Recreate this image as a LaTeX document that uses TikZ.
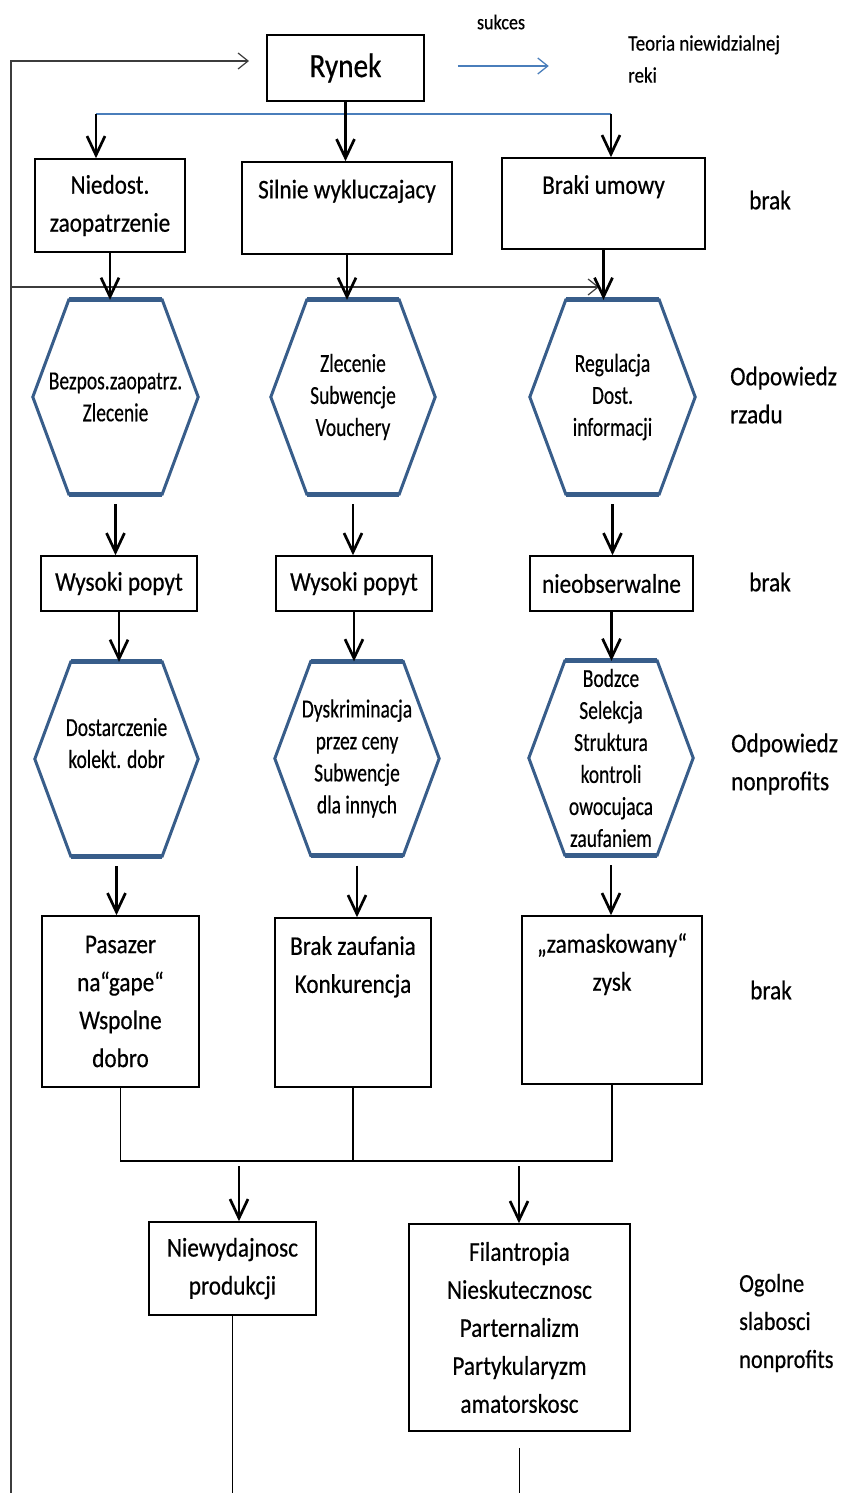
\documentclass[tikz,border=0pt]{standalone}
\usepackage{fontspec}
\usetikzlibrary{arrows.meta}
\newfontfamily\boxface[FakeStretch=0.86,FakeBold=0.5]{Carlito}
\newfontfamily\hexface[FakeStretch=0.75,FakeBold=0.4]{Carlito}
\definecolor{hexblue}{RGB}{56,93,138}
\definecolor{lineblue}{RGB}{74,126,187}
\definecolor{loopgray}{RGB}{60,60,60}
\tikzset{
  box/.style={draw, line width=1.6pt, inner sep=0pt, align=center, font=\boxface\fontsize{27}{38}\selectfont},
  hexnode/.style={minimum width=165pt, minimum height=194pt, inner sep=0pt, align=center, font=\hexface\fontsize{26}{32}\selectfont},
  side/.style={inner sep=0pt, align=left, font=\boxface\fontsize{27}{38}\selectfont},
  bigarrow/.style={line width=2.7pt, -{Straight Barb[length=19pt,width=18pt]}},
  looparrow/.style={draw=loopgray, line width=1.2pt, -{Straight Barb[length=10pt,width=16pt]}},
  thinline/.style={line width=1.1pt}
}
% hexagon drawn round a node
\newcommand{\hexframe}[1]{%
  \draw[hexblue, line width=3pt, line join=miter] (#1.west) -- ([xshift=36pt]#1.north west) -- ([xshift=-36pt]#1.north east) -- (#1.east) -- ([xshift=-36pt]#1.south east) -- ([xshift=36pt]#1.south west) -- cycle;
  \draw[hexblue, line width=5pt] ([xshift=36pt]#1.north west) -- ([xshift=-36pt]#1.north east) ([xshift=-36pt]#1.south east) -- ([xshift=36pt]#1.south west);}
\begin{document}
\begin{tikzpicture}[x=1pt,y=-1pt]
\useasboundingbox (0,0) rectangle (842,1493);
% Coordinates
\coordinate (loop-top) at (11,61);
\coordinate (loop-mid) at (11,287);
\coordinate (loop-end) at (11,1493);
\coordinate (rynek-in) at (249,61);
\coordinate (gov-in) at (599,287);
\coordinate (split-left) at (96,114);
\coordinate (split-right) at (611,114);
\coordinate (merge) at (0,1161);
\coordinate (merge-left) at (239,1166);
\coordinate (merge-right) at (519,1166);
\coordinate (bottom) at (0,1493);
% Market
\node[box, minimum width=157pt, minimum height=66pt, font=\boxface\fontsize{34}{40}\selectfont] (rynek) at (345.5,68) {Rynek};
\node[inner sep=0pt, font=\boxface\fontsize{21}{26}\selectfont] (sukces) at (501,22) {sukces};
\node[side, anchor=west, font=\boxface\fontsize{22}{32}\selectfont] (teoria) at (628,59) {Teoria niewidzialnej\\reki};
% Failures of the market
\node[box, minimum width=150pt, minimum height=93pt] (niedost) at (110,205.5) {Niedost.\\zaopatrzenie};
\node[box, minimum width=210pt, minimum height=92pt] (silnie) at (347,208) {Silnie wykluczajacy\\\mbox{}};
\node[box, minimum width=203pt, minimum height=91pt] (umowy) at (603.5,203.5) {Braki umowy\\\mbox{}};
% Government
\node[hexnode] (rzad-a) at (115.5,397) {Bezpos.zaopatrz.\\Zlecenie};
\node[hexnode, minimum width=164pt] (rzad-b) at (353,397) {Zlecenie\\Subwencje\\Vouchery};
\node[hexnode] (rzad-c) at (612.5,397) {Regulacja\\Dost.\\informacji};
\node[box, minimum width=156pt, minimum height=55pt] (popyt-a) at (119,583.5) {Wysoki popyt};
\node[box, minimum width=156pt, minimum height=55pt] (popyt-b) at (354,583.5) {Wysoki popyt};
\node[box, minimum width=163pt, minimum height=55pt] (nieobs) at (611.5,583.5) {nieobserwalne};
% Nonprofits
\node[hexnode, minimum width=163pt] (np-a) at (116.5,759) {Dostarczenie\\kolekt. dobr\\\mbox{}};
\node[hexnode, minimum width=164pt] (np-b) at (357,758.5) {Dyskriminacja\\przez ceny\\Subwencje\\dla innych};
\node[hexnode, minimum width=164pt] (np-c) at (611,758) {Bodzce\\Selekcja\\Struktura\\kontroli\\owocujaca\\zaufaniem};
\node[box, minimum width=157pt, minimum height=171pt] (pasazer) at (120.5,1001.5) {Pasazer\\na“gape“\\Wspolne\\dobro};
\node[box, minimum width=156pt, minimum height=169pt] (zaufanie) at (353,1002.5) {Brak zaufania\\Konkurencja\\\mbox{}\\\mbox{}};
\node[box, minimum width=180pt, minimum height=168pt] (zysk) at (612,1000) {„zamaskowany“\\zysk\\\mbox{}\\\mbox{}};
\node[box, minimum width=167pt, minimum height=93pt] (niewyd) at (232.5,1268.5) {Niewydajnosc\\produkcji};
\node[box, minimum width=221pt, minimum height=207pt] (filan) at (519.5,1327.5) {Filantropia\\Nieskutecznosc\\Parternalizm\\Partykularyzm\\amatorskosc};
% Row labels
\node[side] (brak-a) at (770,200) {brak};
\node[side, anchor=west] (odp-rzadu) at (730,395) {Odpowiedz\\rzadu};
\node[side] (brak-b) at (770,582) {brak};
\node[side, anchor=west] (odp-np) at (731,764) {Odpowiedz\\nonprofits};
\node[side] (brak-c) at (771,990) {brak};
\node[side, anchor=west, font=\boxface\fontsize{26}{38}\selectfont] (ogolne) at (739,1323) {Ogolne\\slabosci\\nonprofits};
% Hexagons
\foreach \h in {rzad-a,rzad-b,rzad-c,np-a,np-b,np-c} {\hexframe{\h}}
% Feedback loop
\draw[looparrow] (loop-end) -- (loop-top) -- (rynek-in);
\draw[looparrow] (loop-mid) -- (gov-in);
\draw[lineblue, line width=1.3pt, -{Straight Barb[length=10pt,width=16pt]}] ([xshift=33pt,yshift=2pt]rynek.east) -- ([xshift=124pt,yshift=2pt]rynek.east);
% Split of the market
\draw[lineblue, line width=1.2pt] (split-left) -- (split-right);
\draw[bigarrow] (rynek.south) -- (rynek.south |- silnie.north);
\draw[bigarrow] (split-left) -- (split-left |- niedost.north);
\draw[bigarrow] (split-right) -- (split-right |- umowy.north);
% Columns
\foreach \a/\b in {niedost/rzad-a,silnie/rzad-b,umowy/rzad-c,popyt-a/np-a,popyt-b/np-b,nieobs/np-c}
  \draw[bigarrow] (\a.south) -- (\a.south |- \b.north);
\foreach \a/\b in {rzad-a/popyt-a,rzad-b/popyt-b,rzad-c/nieobs,np-a/pasazer,np-b/zaufanie,np-c/zysk}
  \draw[bigarrow, shorten <=10pt] (\a.south) -- (\a.south |- \b.north);
% Merge
\draw[thinline] (pasazer.south) -- (pasazer.south |- merge) -- (zysk.south |- merge) -- (zysk.south);
\draw[thinline] (zaufanie.south) -- (zaufanie.south |- merge);
\draw[bigarrow] (merge-left) -- (merge-left |- niewyd.north);
\draw[bigarrow] (merge-right) -- (merge-right |- filan.north);
\draw[thinline] (niewyd.south) -- (niewyd.south |- bottom);
\draw[thinline] ([yshift=-16pt]filan.south) -- (filan.south |- bottom);
\end{tikzpicture}
\end{document}
